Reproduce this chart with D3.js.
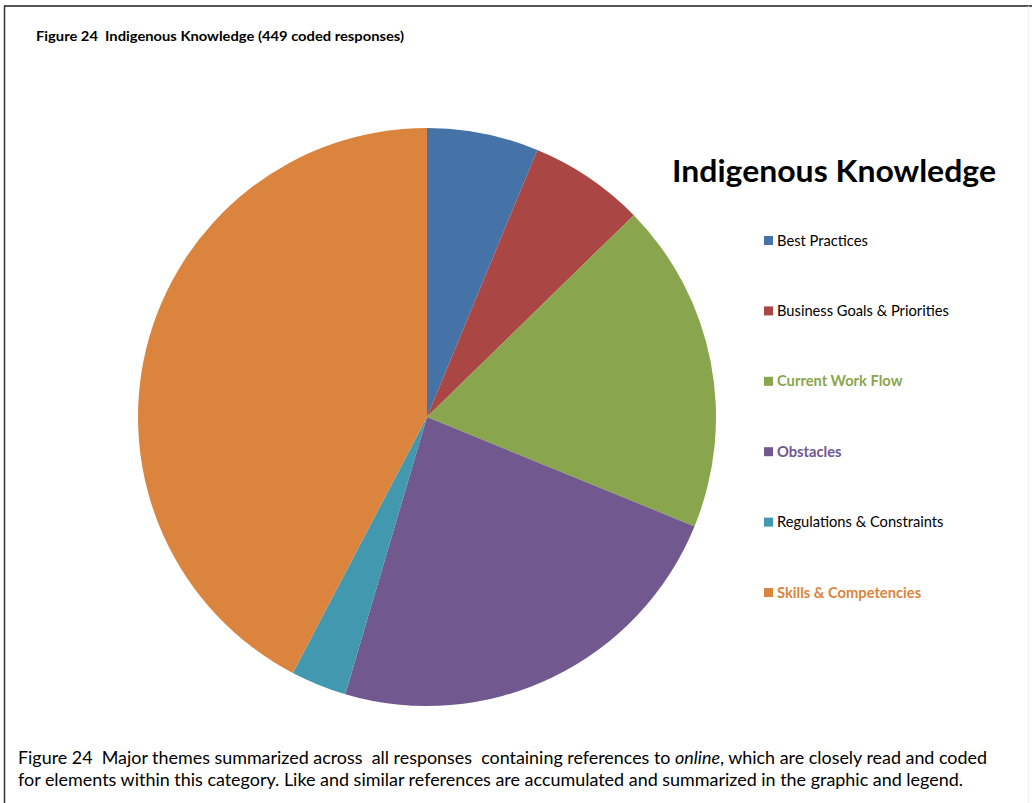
<!DOCTYPE html>
<html>
<head>
  <meta charset="utf-8">
  <script src="https://cdn.jsdelivr.net/npm/d3@7"></script>
  <style>
    body { margin: 0; background: #fff; }
    svg text { font-family: Lato, "Open Sans", sans-serif; white-space: pre; }
  </style>
</head>
<body>
<svg id="chart" width="1032" height="803"></svg>
<script>
  // theme counts, 449 coded responses in total
  var categories = ["Best Practices", "Business Goals & Priorities", "Current Work Flow",
                    "Obstacles", "Regulations & Constraints", "Skills & Competencies"];
  var counts = [28, 29, 83, 105, 14, 190];
  var colors = ["#4572A7", "#AA4643", "#89A54E", "#71588F", "#4198AF", "#DB843D"];
  // legend label styling as in the original (some entries bold + coloured)
  var labelBold = [false, false, true, true, false, true];
  var labelColor = ["#000", "#000", "#89A54E", "#71588F", "#000", "#DB843D"];

  var svg = d3.select("#chart");

  // frame lines (top + left)
  svg.append("line").attr("x1", 4).attr("x2", 1032).attr("y1", 6).attr("y2", 6)
    .attr("stroke", "#555").attr("stroke-width", 2);
  svg.append("line").attr("x1", 4.5).attr("x2", 4.5).attr("y1", 6).attr("y2", 803)
    .attr("stroke", "#333").attr("stroke-width", 1.5);
  svg.append("line").attr("x1", 1028.5).attr("x2", 1028.5).attr("y1", 6).attr("y2", 803)
    .attr("stroke", "#f0f0f0").attr("stroke-width", 1);

  svg.append("text")
    .attr("x", 36).attr("y", 41)
    .attr("font-size", 13.5).attr("font-weight", "bold")
    .attr("textLength", 368).attr("lengthAdjust", "spacingAndGlyphs")
    .text("Figure 24  Indigenous Knowledge (449 coded responses)");

  // pie
  var cx = 427, cy = 417, r = 289;
  var pie = d3.pie().sort(null).value(function(d) { return d; });
  var arc = d3.arc().innerRadius(0).outerRadius(r);

  svg.append("g")
    .attr("transform", "translate(" + cx + "," + cy + ")")
    .selectAll("path")
    .data(pie(counts))
    .join("path")
    .attr("d", arc)
    .attr("fill", function(d, i) { return colors[i]; });

  // chart title
  svg.append("text")
    .attr("x", 672).attr("y", 182)
    .attr("font-size", 30).attr("font-weight", "bold")
    .attr("textLength", 324).attr("lengthAdjust", "spacingAndGlyphs")
    .text("Indigenous Knowledge");

  // legend
  var legY = d3.scalePoint().domain(categories).range([240, 592]);
  var leg = svg.append("g").selectAll("g")
    .data(categories)
    .join("g")
    .attr("transform", function(d) { return "translate(764," + legY(d) + ")"; });

  leg.append("rect")
    .attr("x", 0).attr("y", -4).attr("width", 9).attr("height", 9)
    .attr("fill", function(d, i) { return colors[i]; });
  leg.append("text")
    .attr("x", 13).attr("y", 5.5)
    .attr("font-size", 14.7)
    .attr("font-weight", function(d, i) { return labelBold[i] ? "bold" : "normal"; })
    .attr("fill", function(d, i) { return labelColor[i]; })
    .text(function(d) { return d; });

  // caption
  var cap1 = svg.append("text")
    .attr("x", 18).attr("y", 764)
    .attr("font-size", 17)
    .attr("textLength", 969).attr("lengthAdjust", "spacingAndGlyphs");
  cap1.append("tspan").text("Figure 24  Major themes summarized across  all responses  containing references to ");
  cap1.append("tspan").attr("font-style", "italic").text("online");
  cap1.append("tspan").text(", which are closely read and coded");

  svg.append("text")
    .attr("x", 18).attr("y", 786)
    .attr("font-size", 17)
    .attr("textLength", 945).attr("lengthAdjust", "spacingAndGlyphs")
    .text("for elements within this category. Like and similar references are accumulated and summarized in the graphic and legend.");
</script>
</body>
</html>
